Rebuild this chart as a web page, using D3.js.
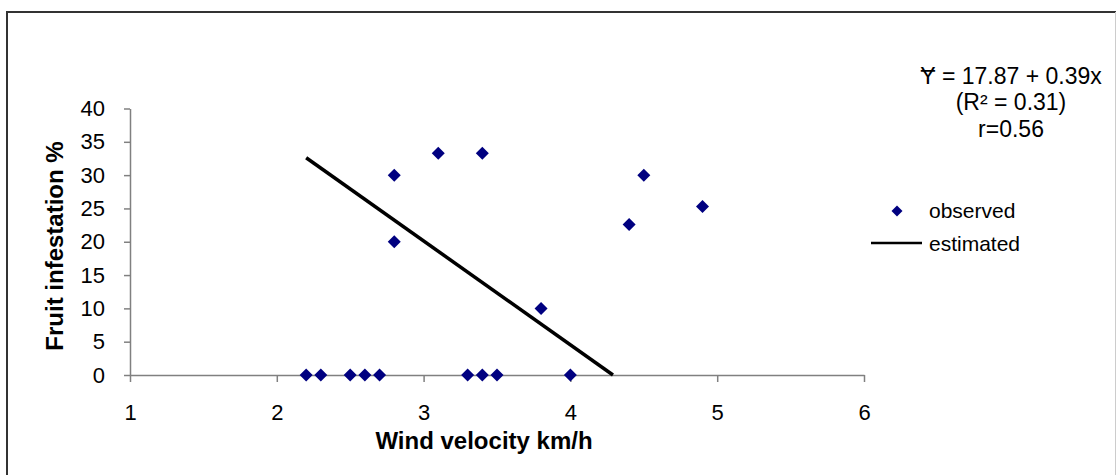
<!DOCTYPE html>
<html><head><meta charset="utf-8">
<script src="https://cdn.jsdelivr.net/npm/d3@7"></script>
<style>
body{margin:0;background:#fff;}
svg{display:block;font-family:"Liberation Sans",Arial,sans-serif;}
</style></head>
<body>
<script>
const obsX = [2.2, 2.3, 2.5, 2.6, 2.7, 2.8, 2.8, 3.1, 3.3, 3.4, 3.4, 3.5, 3.8, 4.0, 4.4, 4.5, 4.9];
const obsY = [0, 0, 0, 0, 0, 30, 20, 33.3, 0, 33.3, 0, 0, 10, 0, 22.6, 30, 25.3];
const estX = [2.2, 4.29];
const estY = [32.6, 0];
const xTicks = [1, 2, 3, 4, 5, 6];
const yTicks = [0, 5, 10, 15, 20, 25, 30, 35, 40];
const eqLines = ["Ɏ = 17.87 + 0.39x", "(R² = 0.31)", "r=0.56"];
const legendLabels = ["observed", "estimated"];

const W = 1116, H = 475;
const svg = d3.select("body").append("svg").attr("width", W).attr("height", H);
svg.append("rect").attr("width", W).attr("height", H).attr("fill", "#fff");
// frame
svg.append("path").attr("d", `M7,${H+5} V12 H${W+5}`).attr("fill","none").attr("stroke","#333").attr("stroke-width",2);
svg.append("line").attr("x1",W-0.5).attr("x2",W-0.5).attr("y1",12).attr("y2",H).attr("stroke","#ccc").attr("stroke-width",1);

const x = d3.scaleLinear().domain([1, 6]).range([130, 864]);
const y = d3.scaleLinear().domain([0, 40]).range([375, 108.5]);

const axisColor = "#808080";
const gx = svg.append("g").attr("transform", "translate(0,375)")
  .call(d3.axisBottom(x).tickValues(xTicks).tickSize(7).tickSizeOuter(0).tickPadding(22).tickFormat(d3.format("d")));
const gy = svg.append("g").attr("transform", "translate(130,0)")
  .call(d3.axisLeft(y).tickValues(yTicks).tickSize(6).tickSizeOuter(0).tickPadding(19).tickFormat(d3.format("d")));
[gx, gy].forEach(g => {
  g.select(".domain").attr("stroke", axisColor).attr("stroke-width", 1.5);
  g.selectAll(".tick line").attr("stroke", axisColor).attr("stroke-width", 1.5);
  g.selectAll(".tick text").attr("fill", "#000").style("font-size", "22px").style("font-family", "Liberation Sans, Arial, sans-serif");
});

// axis titles
svg.append("text").attr("x", 484).attr("y", 449).attr("text-anchor", "middle")
  .style("font-size", "24px").style("font-weight", "bold").text("Wind velocity km/h");
svg.append("text").attr("transform", "translate(63,246) rotate(-90)").attr("text-anchor", "middle")
  .style("font-size", "24px").style("font-weight", "bold").text("Fruit infestation %");

// estimated line
const line = d3.line().x(d => x(d[0])).y(d => y(d[1]));
svg.append("path").datum(estX.map((v, i) => [v, estY[i]])).attr("d", line)
  .attr("fill", "none").attr("stroke", "#000").attr("stroke-width", 3.5);

// diamonds
const dia = r => `M0,${-r}L${r},0L0,${r}L${-r},0Z`;
svg.append("g").selectAll("path").data(obsX.map((v, i) => [v, obsY[i]])).join("path")
  .attr("transform", d => `translate(${x(d[0])},${y(d[1])})`)
  .attr("d", dia(6.5)).attr("fill", "#000080");

// equation
const eqY = [84, 110, 137];
eqLines.forEach((t, i) => {
  svg.append("text").attr("x", 1011).attr("y", eqY[i]).attr("text-anchor", "middle")
    .style("font-size", "23px").text(t);
});

// legend
svg.append("path").attr("transform", "translate(897,211)").attr("d", dia(5.5)).attr("fill", "#000080");
svg.append("line").attr("x1", 871).attr("x2", 922).attr("y1", 243).attr("y2", 243).attr("stroke", "#000").attr("stroke-width", 2.5);
legendLabels.forEach((t, i) => {
  svg.append("text").attr("x", 929).attr("y", 218 + i * 33).style("font-size", "21px").text(t);
});
</script>
</body></html>
